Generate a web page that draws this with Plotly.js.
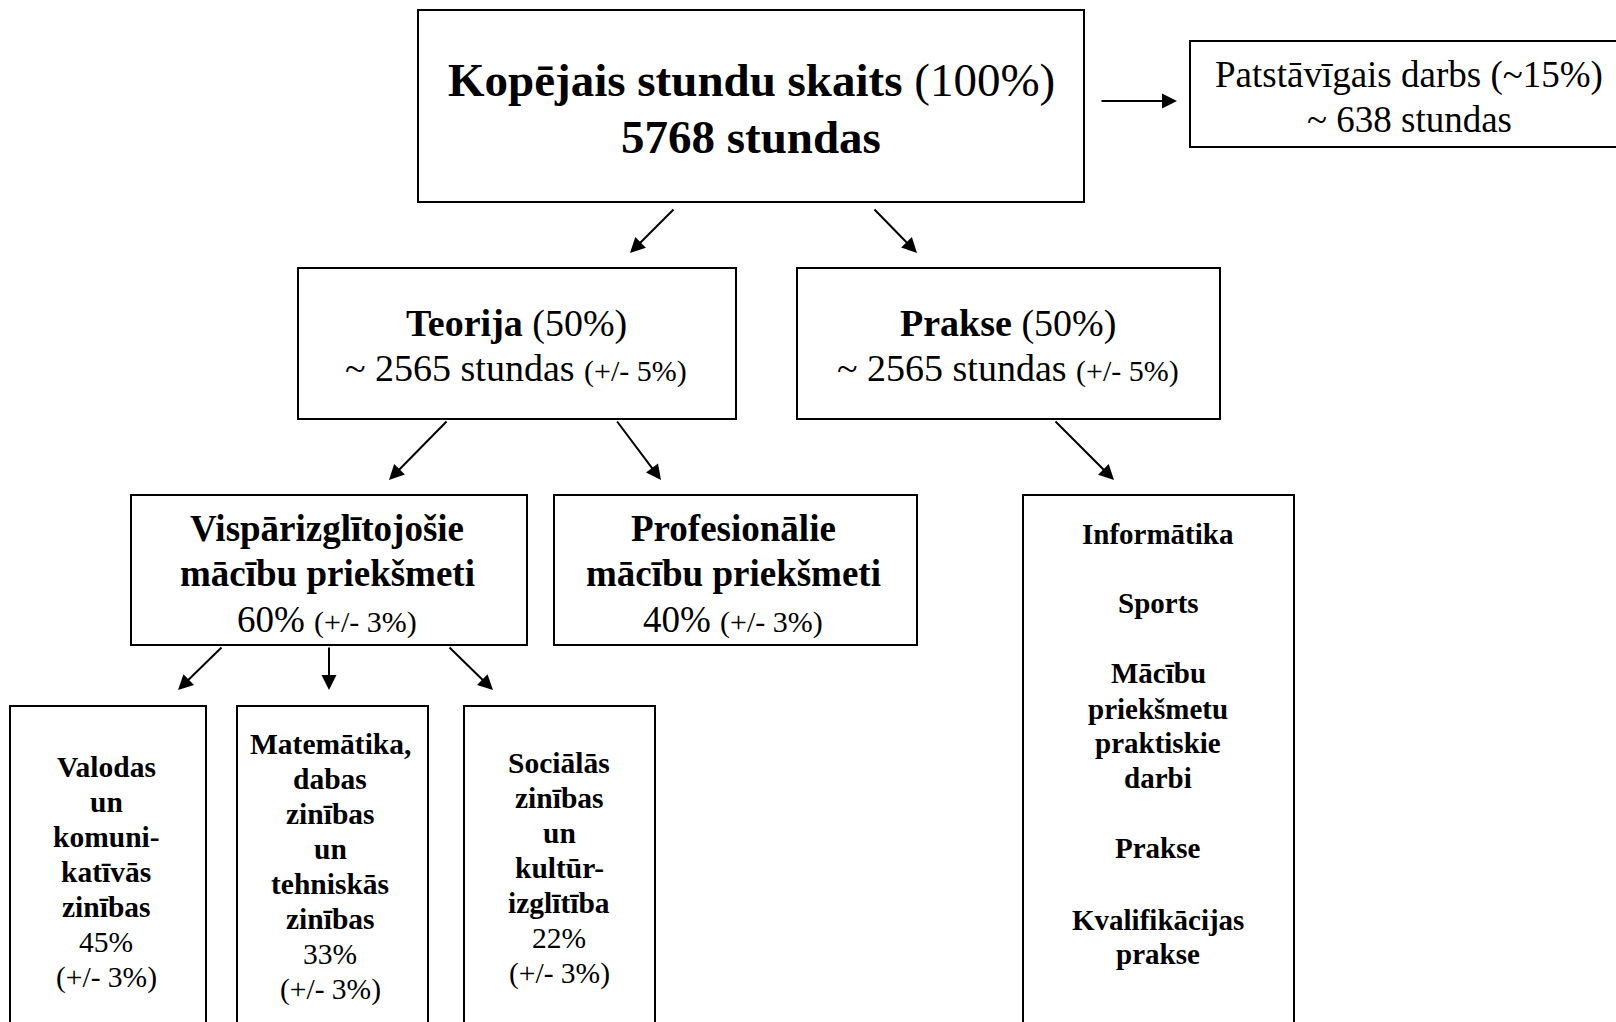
<!DOCTYPE html>
<html>
<head>
<meta charset="utf-8">
<script src="https://cdn.plot.ly/plotly-3.0.1.min.js"></script>
<style>html,body{margin:0;padding:0;background:#fff;}#chart{width:1616px;height:1022px;}</style>
</head>
<body>
<div id="chart"></div>
<script>
// ---- content ----
const nodeIds = ["total", "selfwork", "theory", "practice", "general", "professional", "lang", "math", "social", "practiceList"];
const nodeLines = [
  ["<b>Kopējais stundu skaits</b> (100%)", "<b>5768 stundas</b>"],
  ["Patstāvīgais darbs (~15%)", "~ 638 stundas"],
  ["<b>Teorija</b> (50%)", "~ 2565 stundas <span style='font-size:30px'>(+/- 5%)</span>"],
  ["<b>Prakse</b> (50%)", "~ 2565 stundas <span style='font-size:30px'>(+/- 5%)</span>"],
  ["<b>Vispārizglītojošie</b>", "<b>mācību priekšmeti</b>", "60% <span style='font-size:30px'>(+/- 3%)</span>"],
  ["<b>Profesionālie</b>", "<b>mācību priekšmeti</b>", "40% <span style='font-size:30px'>(+/- 3%)</span>"],
  ["<b>Valodas</b>", "<b>un</b>", "<b>komuni-</b>", "<b>katīvās</b>", "<b>zinības</b>", "45%", "(+/- 3%)"],
  ["<b>Matemātika,</b>", "<b>dabas</b>", "<b>zinības</b>", "<b>un</b>", "<b>tehniskās</b>", "<b>zinības</b>", "33%", "(+/- 3%)"],
  ["<b>Sociālās</b>", "<b>zinības</b>", "<b>un</b>", "<b>kultūr-</b>", "<b>izglītība</b>", "22%", "(+/- 3%)"],
  ["<b>Informātika</b>", "<b>Sports</b>", "<b>Mācību</b>", "<b>priekšmetu</b>", "<b>praktiskie</b>", "<b>darbi</b>", "<b>Prakse</b>", "<b>Kvalifikācijas</b>", "<b>prakse</b>"]
];
const edgeFrom = ["total", "total", "total", "theory", "theory", "practice", "general", "general", "general"];
const edgeTo   = ["selfwork", "theory", "practice", "general", "professional", "practiceList", "lang", "math", "social"];

// ---- layout geometry (pixels in a 1616x1022 canvas) ----
const boxGeom = {
  total:        {x0: 418, x1: 1084, y0: 10,  y1: 202, cx: 751, ly: [80, 137], fs: 47},
  selfwork:     {x0: 1190, x1: 1625, y0: 41, y1: 147, cx: 1409, ly: [75, 119], fs: 37},
  theory:       {x0: 298, x1: 736,  y0: 268, y1: 419, cx: 516, ly: [323, 368], fs: 38},
  practice:     {x0: 797, x1: 1220, y0: 268, y1: 419, cx: 1008, ly: [323, 368], fs: 38},
  general:      {x0: 131, x1: 527,  y0: 495, y1: 645, cx: 327, ly: [528, 573, 619], fs: 37},
  professional: {x0: 554, x1: 917,  y0: 495, y1: 645, cx: 733, ly: [528, 573, 619], fs: 37},
  lang:         {x0: 10,  x1: 206,  y0: 706, y1: 1040, cx: 106, ly: [767, 802, 837, 872, 907, 942, 977], fs: 29.5},
  math:         {x0: 237, x1: 428,  y0: 706, y1: 1040, cx: 330, ly: [744, 779, 814, 849, 884, 919, 954, 989], fs: 29.5},
  social:       {x0: 464, x1: 655,  y0: 706, y1: 1040, cx: 559, ly: [763, 798, 833, 868, 903, 938, 973], fs: 29.5},
  practiceList: {x0: 1023, x1: 1294, y0: 495, y1: 1040, cx: 1158, ly: [534, 603, 673, 709, 743, 778, 848, 920, 954], fs: 29}
};
const arrowGeom = [
  {ax: 1100, ay: 101, x: 1177, y: 101},
  {ax: 675, ay: 208, x: 630, y: 253},
  {ax: 873, ay: 208, x: 917, y: 253},
  {ax: 448, ay: 420, x: 389, y: 480},
  {ax: 616, ay: 420, x: 661, y: 480},
  {ax: 1054, ay: 420, x: 1114, y: 480},
  {ax: 223, ay: 646, x: 178, y: 690},
  {ax: 329, ay: 646, x: 329, y: 690},
  {ax: 448, ay: 646, x: 493, y: 690}
];

const FONT = "Liberation Serif, Times New Roman, serif";

const shapes = nodeIds.map(id => {
  const g = boxGeom[id];
  return {type: "rect", xref: "x", yref: "y", x0: g.x0, x1: g.x1, y0: g.y0, y1: g.y1,
          line: {color: "#000", width: 2}, fillcolor: "rgba(0,0,0,0)"};
});

const annotations = [];
nodeIds.forEach((id, i) => {
  const g = boxGeom[id];
  nodeLines[i].forEach((line, k) => {
    annotations.push({xref: "x", yref: "y", x: g.cx, y: g.ly[k], text: line, showarrow: false,
      xanchor: "center", yanchor: "middle", align: "center",
      font: {family: FONT, size: g.fs, color: "#000"}});
  });
});
edgeFrom.forEach((f, i) => {
  const a = arrowGeom[i];
  annotations.push({xref: "x", yref: "y", axref: "x", ayref: "y", x: a.x, y: a.y, ax: a.ax, ay: a.ay,
    text: "", showarrow: true, arrowhead: 2, arrowsize: 1.5, arrowwidth: 2, arrowcolor: "#000", standoff: 0, startstandoff: 0});
});

const layout = {
  width: 1616, height: 1022,
  margin: {l: 0, r: 0, t: 0, b: 0},
  paper_bgcolor: "#fff", plot_bgcolor: "#fff",
  xaxis: {range: [0, 1616], visible: false, fixedrange: true},
  yaxis: {range: [1022, 0], visible: false, fixedrange: true},
  shapes: shapes, annotations: annotations, showlegend: false
};
Plotly.newPlot("chart", [{x: [], y: [], type: "scatter", mode: "markers", hoverinfo: "skip"}], layout, {displayModeBar: false, staticPlot: true});
</script>
</body>
</html>
